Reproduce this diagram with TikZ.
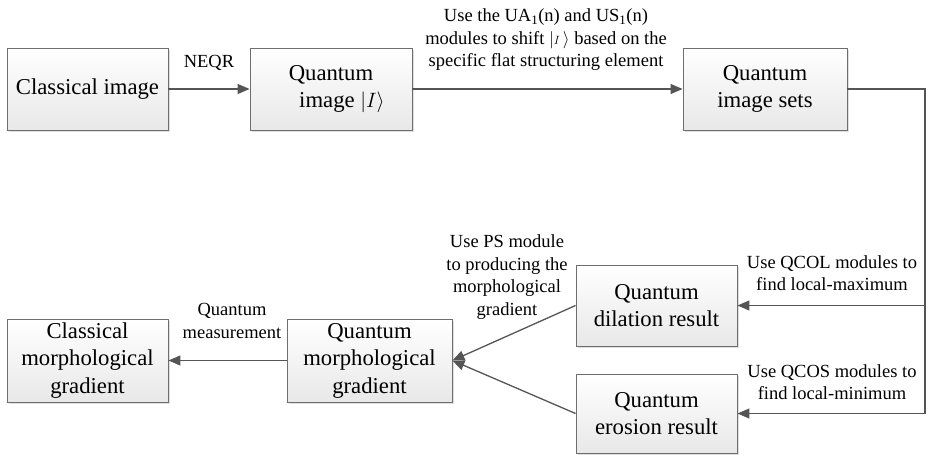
\documentclass[tikz,border=0pt]{standalone}
\usepackage{fontspec}
\setmainfont{Liberation Serif}[Ligatures=TeX]
\newfontfamily\tms{Liberation Serif}
\usetikzlibrary{arrows.meta,shadows}
\definecolor{linec}{RGB}{85,85,85}
\definecolor{boxb}{RGB}{110,110,110}
\tikzset{
  box/.style={draw=boxb, line width=0.9pt, top color=white, bottom color={rgb,255:red,232;green,232;blue,232},
    drop shadow={shadow xshift=1.5pt, shadow yshift=-1.5pt, opacity=0.25},
    align=center, inner sep=2pt, font=\tms\fontsize{22.7}{26.5}\selectfont},
  arr/.style={draw=linec, line width=1.3pt, -{Triangle[length=12pt,width=10pt]}},
  ln/.style={draw=linec, line width=1.3pt},
  lbl/.style={align=center, inner sep=0pt, font=\tms\fontsize{18.5}{22.5}\selectfont}
}
\begin{document}
\begin{tikzpicture}[x=1pt,y=-1pt]
\useasboundingbox (0,0) rectangle (929,455);
\node[box, minimum width=161pt, minimum height=82pt] (b1) at (87.5,89) {Classical image};
\node[box, minimum width=162pt, minimum height=82pt] (b2) at (331,89) {Quantum\\\hspace*{22pt}image $\Big|I\Big\rangle$};
\node[box, minimum width=164pt, minimum height=82pt] (b3) at (765,89) {Quantum\\image sets};
\node[box, minimum width=161pt, minimum height=81pt] (dil) at (656.5,305.5) {Quantum\\dilation result};
\node[box, minimum width=161pt, minimum height=79pt] (ero) at (656.5,413.5) {Quantum\\erosion result};
\node[box, minimum width=165pt, minimum height=83pt, font=\tms\fontsize{22.7}{27.5}\selectfont] (qmg) at (369.5,360.5) {Quantum\\morphological\\gradient};
\node[box, minimum width=161pt, minimum height=83pt, font=\tms\fontsize{22.7}{27.5}\selectfont] (cmg) at (87.5,360.5) {Classical\\morphological\\gradient};

\draw[arr] (b1.east) -- (b2.west);
\draw[arr] (b2.east) -- (b3.west);
\coordinate (c1) at (925,89);
\coordinate (c2) at (925,413.5);
\coordinate (c3) at (925,305.5);
\draw[ln] (b3.east) -- (c1) -- (c2);
\draw[arr] (c2) -- (ero.east);
\draw[arr] (c3) -- (dil.east);
\draw[arr] (dil.west) -- (qmg.east);
\draw[arr] (ero.west) -- (qmg.east);
\draw[arr] (qmg.west) -- (cmg.east);

\node[lbl] (l1) at (209,63) {NEQR};
\node[lbl] (l2) at (546,40) {Use the UA\textsubscript{1}(n) and US\textsubscript{1}(n)\\modules to shift $\big|{\scriptstyle I}\,\big\rangle$ based on the\\specific flat structuring element};
\node[lbl] (l3) at (832,273) {Use QCOL modules to\\find local-maximum};
\node[lbl] (l4) at (832,382) {Use QCOS modules to\\find local-minimum};
\node[lbl] (l5) at (507,277) {Use PS module\\to producing the\\morphological\\gradient};
\node[lbl] (l6) at (232,321) {Quantum\\measurement};
\end{tikzpicture}
\end{document}
